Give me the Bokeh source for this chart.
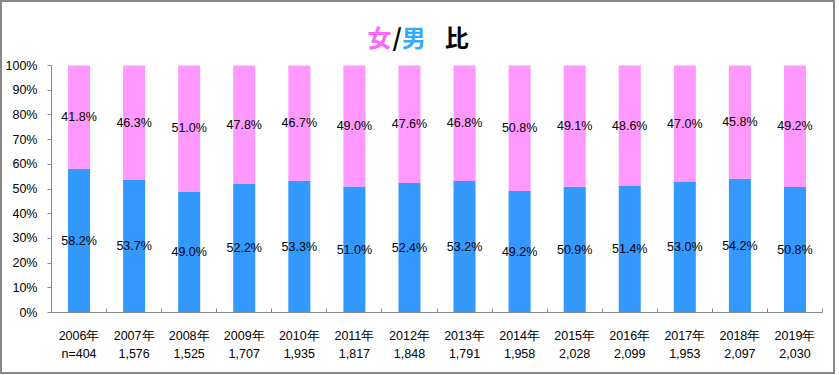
import numpy as np
from bokeh.plotting import figure
from bokeh.models import ColumnDataSource, FixedTicker, Range1d, NumeralTickFormatter
from bokeh.core.properties import value
from bokeh.embed import file_html
from bokeh.resources import INLINE

years = ["2006年", "2007年", "2008年", "2009年", "2010年", "2011年", "2012年",
         "2013年", "2014年", "2015年", "2016年", "2017年", "2018年", "2019年"]
counts = ["n=404", "1,576", "1,525", "1,707", "1,935", "1,817", "1,848",
          "1,791", "1,958", "2,028", "2,099", "1,953", "2,097", "2,030"]
male = [58.2, 53.7, 49.0, 52.2, 53.3, 51.0, 52.4, 53.2, 49.2, 50.9, 51.4, 53.0, 54.2, 50.8]
female = [41.8, 46.3, 51.0, 47.8, 46.7, 49.0, 47.6, 46.8, 50.8, 49.1, 48.6, 47.0, 45.8, 49.2]

title_parts = ["女", "/", "男", "比"]
title_colors = ["#FF66FF", "black", "#33AAFF", "black"]

BLUE = "#3399FF"
PINK = "#FF99FF"
FONT = "Liberation Sans"

n = len(years)
xc = np.arange(n) + 0.5
m = np.array(male) / 100.0
f = np.array(female) / 100.0

src = ColumnDataSource(dict(
    x=xc, m=m, f=f, top=m + f,
    m_mid=m / 2, f_mid=m + f / 2,
    m_lab=[f"{v:.1f}%" for v in male],
    f_lab=[f"{v:.1f}%" for v in female],
))

# frame: 0% at page y=312, 100% at y=65 ; frame top at y=15 to hold the title
y_top = (312 - 15) / (312 - 65)

p = figure(width=835, height=374, output_backend="svg", toolbar_location=None,
           x_range=Range1d(0, n), y_range=Range1d(0, y_top),
           min_border_left=49, min_border_right=15, min_border_top=13, min_border_bottom=64)
p.outline_line_color = None
p.xgrid.visible = False
p.ygrid.visible = False
p.background_fill_color = "white"
p.border_fill_color = "white"

p.vbar(x="x", width=0.4, bottom=0, top="m", color=BLUE, line_color=None, source=src)
p.vbar(x="x", width=0.4, bottom="m", top="top", color=PINK, line_color=None, source=src)

for col, lab in (("m_mid", "m_lab"), ("f_mid", "f_lab")):
    p.text(x="x", y=col, text=lab, source=src, text_align="center", text_baseline="middle",
           text_font=value(FONT), text_font_size="12.5px", text_color="black")

# title, drawn in pieces for the two colours
tsrc = ColumnDataSource(dict(x=[5.74, 6.19, 6.36, 7.14], y=[1.117] * 4,
                             t=title_parts, c=title_colors))
p.text(x="x", y="y", text="t", text_color="c", source=tsrc, text_align="left",
       text_baseline="middle", text_font=value("Noto Sans CJK JP"),
       text_font_style="bold", text_font_size="24px")

# x axis
xa = p.xaxis[0]
xa.ticker = FixedTicker(ticks=list(xc), minor_ticks=list(range(n + 1)))
xa.major_label_overrides = {float(c): f"{y}\n{c2}" for c, y, c2 in zip(xc, years, counts)}
xa.major_tick_in = 0
xa.major_tick_out = 0
xa.minor_tick_in = 4
xa.minor_tick_out = 0
xa.axis_line_color = "#888888"
xa.minor_tick_line_color = "#888888"
xa.major_label_text_font = FONT
xa.major_label_text_font_size = "12.5px"
xa.major_label_text_color = "black"
xa.major_label_text_line_height = 1.3
xa.major_label_standoff = 16

ya = p.yaxis[0]
ya.ticker = FixedTicker(ticks=[i / 10 for i in range(11)], minor_ticks=[])
ya.bounds = (0, 1)
ya.formatter = NumeralTickFormatter(format="0%")
ya.major_tick_in = 0
ya.major_tick_out = 4
ya.axis_line_color = "#888888"
ya.major_tick_line_color = "#888888"
ya.major_label_text_font = FONT
ya.major_label_text_font_size = "12.5px"
ya.major_label_text_color = "black"
ya.major_label_standoff = 10

p.styles = {"border": "2px solid #888888"}

open("out.html", "w").write(file_html(p, INLINE))
